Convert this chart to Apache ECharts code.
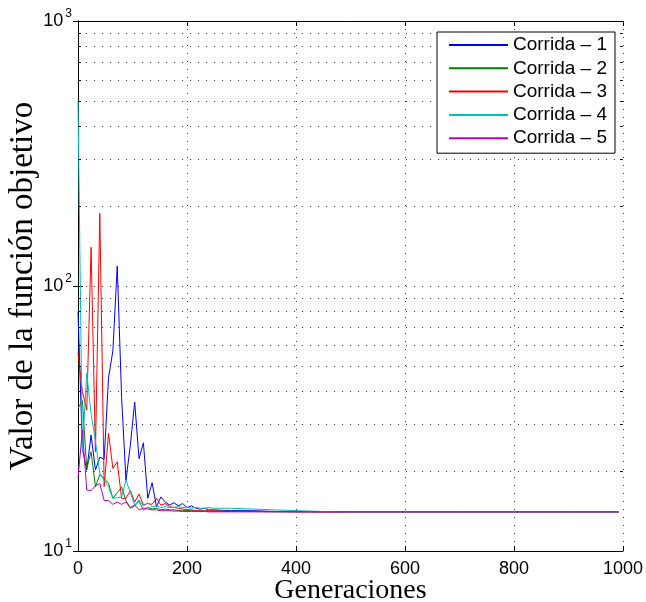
<!DOCTYPE html>
<html><head><meta charset="utf-8">
<script src="https://cdn.jsdelivr.net/npm/echarts@6/dist/echarts.min.js"></script>
<style>html,body{margin:0;padding:0;background:#fff}#c{width:646px;height:602px}</style>
</head><body><div id="c"></div>
<script>
const generations = [0,8,16,24,32,40,48,56,64,72,80,88,96,104,112,120,128,136,144,152,160,168,176,184,192,200,208,216,224,232,240,248,
  280,320,360,400,450,500,600,700,800,900,992];
const corrida1 = [80,24.4,20.2,27.4,20.2,22.6,22.2,45,57,119,38,18.5,25,36.5,22.3,25.6,15.8,18.1,14.7,16.0,15.3,14.9,15.2,14.8,15.1,14.6,14.8,14.5,14.4,14.5,14.3,14.3,
  14.2,14.2,14.1,14.1,14.05,14.05,14.05,14.05,14.05,14.05,14.05];
const corrida2 = [34.5,37,20.5,23.7,17.5,19.4,18.8,18.0,15.8,16.6,17.4,15.5,14.5,14.8,15.4,14.3,14.6,14.4,14.5,14.3,14.4,14.3,14.3,14.2,14.2,14.2,14.2,14.15,14.15,14.1,14.1,14.1,
  14.1,14.1,14.05,14.05,14.05,14.05,14.05,14.05,14.05,14.05,14.05];
const corrida3 = [56,40,34,140,23.7,188,17.5,27.8,20.5,21.7,15.8,15.8,16.9,15.3,16.4,14.9,15.1,15.0,15.8,14.9,15.1,14.7,14.6,14.5,14.4,14.3,14.3,14.2,14.2,14.2,14.2,14.2,
  14.1,14.1,14.1,14.05,14.05,14.05,14.05,14.05,14.05,14.05,14.05];
const corrida4 = [500,24,47,33,26,19.6,18.5,17.5,15.8,15.9,16.0,18.5,16.6,14.9,15.6,14.8,15.2,14.7,14.8,14.6,14.7,14.6,14.6,14.7,14.6,14.6,14.5,14.6,14.5,14.5,14.6,14.5,
  14.5,14.4,14.3,14.2,14.1,14.05,14.05,14.05,14.05,14.05,14.05];
const corrida5 = [18.8,28.6,17,16.9,17.6,18,15.5,15.5,15.0,15.3,15.0,15.3,14.6,14.9,14.3,14.5,14.4,14.3,14.3,14.2,14.2,14.2,14.15,14.15,14.1,14.1,14.1,14.1,14.1,14.1,14.05,14.05,
  14.05,14.05,14.05,14.05,14.05,14.05,14.05,14.05,14.05,14.05,14.05];
const seriesNames = ['Corrida \u2013 1','Corrida \u2013 2','Corrida \u2013 3','Corrida \u2013 4','Corrida \u2013 5'];
const seriesColors = ['#0000FF','#008000','#FF0000','#00BFBF','#BF00BF'];
const xTickInterval = 200;
const yMinorTicks = [20,30,40,50,60,70,80,90,200,300,400,500,600,700,800,900];
const xLabel = 'Generaciones';
const yLabel = 'Valor de la funci\u00f3n objetivo';

const allData = [corrida1, corrida2, corrida3, corrida4, corrida5];
const chart = echarts.init(document.getElementById('c'), null, {renderer: 'canvas'});
const sans = 'Liberation Sans';
const serif = 'Liberation Serif';
const dotted = {color: '#333', width: 1, type: [1, 7]};

const series = allData.map((vals, i) => ({
  name: seriesNames[i], type: 'line', xAxisIndex: 0, yAxisIndex: 0,
  data: generations.map((g, j) => [g, vals[j]]),
  showSymbol: false, symbol: 'none',
  lineStyle: {color: seriesColors[i], width: 1}, itemStyle: {color: seriesColors[i]},
  z: 3, silent: true
}));
series.unshift({
  name: 'minorGrid', type: 'line', data: [], z: 1, silent: true,
  markLine: {silent: true, symbol: 'none', label: {show: false}, animation: false,
    lineStyle: dotted, emphasis: {disabled: true},
    data: yMinorTicks.map(v => ({yAxis: v}))}
});
series.unshift({
  name: 'minorTicks', type: 'line', data: [], z: 1, silent: true,
  markLine: {silent: true, symbol: 'none', label: {show: false}, animation: false,
    lineStyle: {color: '#000', width: 1, type: 'solid'}, emphasis: {disabled: true},
    data: yMinorTicks.map(v => [{coord: [0, v]}, {coord: [5.5, v]}]).concat(
          yMinorTicks.map(v => [{coord: [1000, v]}, {coord: [994.5, v]}]))}
});

chart.setOption({
  animation: false,
  backgroundColor: '#fff',
  grid: {left: 78, top: 21, right: 23, bottom: 51, containLabel: false, outerBoundsMode: 'none'},
  legend: {
    data: seriesNames, orient: 'vertical', left: 437, top: 32, z: 20,
    padding: [3, 8, 5, 12], itemGap: 3.3, itemWidth: 59, itemHeight: 2, icon: 'rect',
    borderColor: '#000', borderWidth: 1, backgroundColor: '#fff',
    textStyle: {fontSize: 19, fontFamily: sans, color: '#000', lineHeight: 20},
    selectedMode: false
  },
  xAxis: [{
    type: 'value', min: 0, max: 1000, interval: xTickInterval, position: 'bottom',
    axisLine: {lineStyle: {color: '#000', width: 1}},
    axisTick: {inside: true, length: 5, lineStyle: {color: '#000'}},
    axisLabel: {color: '#000', fontSize: 18, fontFamily: sans, margin: 9, formatter: v => String(v)},
    splitLine: {show: true, lineStyle: dotted},
    name: xLabel, nameLocation: 'middle', nameGap: 26, nameMoveOverlap: false,
    nameTextStyle: {fontFamily: serif, fontSize: 28, color: '#000'}
  }, {
    type: 'value', min: 0, max: 1000, interval: xTickInterval, position: 'top',
    axisLine: {lineStyle: {color: '#000', width: 1}},
    axisTick: {inside: true, length: 5, lineStyle: {color: '#000'}},
    axisLabel: {show: false}, splitLine: {show: false}
  }],
  yAxis: [{
    type: 'log', logBase: 10, min: 10, max: 1000, position: 'left',
    axisLine: {lineStyle: {color: '#000', width: 1}},
    axisTick: {inside: true, length: 5, lineStyle: {color: '#000'}},
    axisLabel: {
      margin: 6,
      formatter: v => '{b|10}{e|' + Math.round(Math.log10(v)) + '}',
      rich: {
        b: {fontSize: 18, fontFamily: sans, color: '#000', lineHeight: 27},
        e: {fontSize: 12, fontFamily: sans, color: '#000', verticalAlign: 'top', padding: [0, 0, 0, 2]}
      }
    },
    splitLine: {show: true, lineStyle: dotted},
    name: yLabel, nameLocation: 'middle', nameGap: 38, nameRotate: 90, nameMoveOverlap: false,
    nameTextStyle: {fontFamily: serif, fontSize: 33, color: '#000'}
  }, {
    type: 'log', logBase: 10, min: 10, max: 1000, position: 'right',
    axisLine: {lineStyle: {color: '#000', width: 1}},
    axisTick: {inside: true, length: 5, lineStyle: {color: '#000'}},
    axisLabel: {show: false}, splitLine: {show: false}
  }],
  series: series
});
</script></body></html>
